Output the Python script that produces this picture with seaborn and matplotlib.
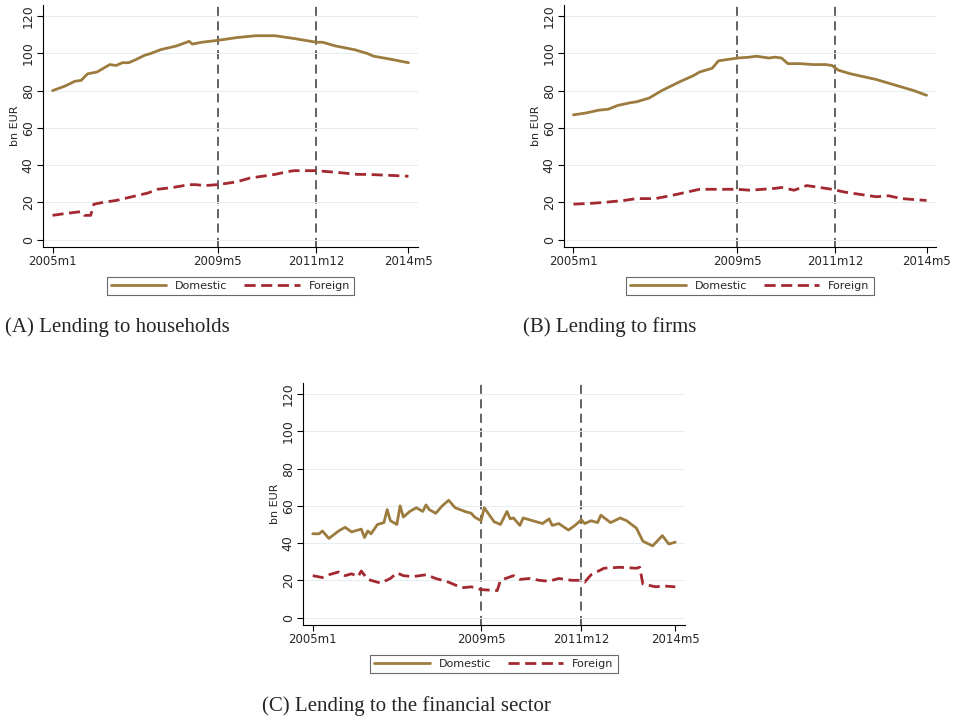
import matplotlib
matplotlib.use("Agg")
import matplotlib.pyplot as plt
import seaborn as sns
import pandas as pd

# month index: 0 = 2005m1 ... 112 = 2014m5
tick_pos = [0, 52, 83, 112]
tick_labels = ["2005m1", "2009m5", "2011m12", "2014m5"]
crisis_lines = [52, 83]

hh_dom_m = [0, 4, 7, 9, 11, 14, 18, 20, 22, 24, 26, 29, 31, 34, 39, 43, 44, 47, 52, 58, 64, 70, 76, 83, 85, 89, 95, 99, 101, 106, 112]
hh_dom_v = [80, 82.5, 85, 85.5, 89, 90, 94, 93.5, 95, 95, 96.5, 99, 100, 102, 104, 106.5, 105, 106, 107, 108.5, 109.5, 109.5, 108, 106, 106, 104, 102, 100, 98.5, 97, 95]
hh_for_m = [0, 4, 9, 10, 12, 13, 16, 20, 25, 30, 33, 38, 43, 45, 48, 52, 56, 58, 62, 66, 70, 74, 76, 83, 90, 96, 99, 106, 112]
hh_for_v = [13, 14, 15, 13, 13, 19, 20, 21, 23, 25, 27, 28, 29.5, 29.5, 29, 29.5, 30.5, 31, 33, 34, 35, 36.5, 37, 37, 36, 35, 35, 34.5, 34]

fi_dom_m = [0, 4, 8, 11, 14, 18, 20, 24, 28, 34, 38, 40, 44, 46, 48, 52, 56, 58, 62, 64, 66, 68, 72, 76, 80, 82, 84, 88, 92, 96, 100, 104, 108, 112]
fi_dom_v = [67, 68, 69.5, 70, 72, 73.5, 74, 76, 80, 85, 88, 90, 92, 96, 96.5, 97.5, 98, 98.5, 97.5, 98, 97.5, 94.5, 94.5, 94, 94, 93.5, 91, 89, 87.5, 86, 84, 82, 80, 77.5]
fi_for_m = [0, 6, 10, 16, 20, 26, 32, 36, 40, 46, 52, 56, 60, 64, 66, 70, 74, 78, 82, 86, 90, 96, 100, 104, 108, 112]
fi_for_v = [19, 19.5, 20, 21, 22, 22, 24, 25.5, 27, 27, 27, 26.5, 27, 27.5, 28, 26.5, 29, 28, 27, 25.5, 24.5, 23, 23.5, 22, 21.5, 21]

fs_dom_m = [0, 2, 3, 5, 8, 10, 12, 15, 16, 17, 18, 20, 22, 23, 24, 26, 27, 28, 30, 32, 34, 35, 36, 38, 40, 42, 44, 47, 49, 50, 52, 53, 56, 58, 60, 61, 62, 64, 65, 69, 71, 73, 74, 76, 79, 81, 83, 84, 86, 88, 89, 92, 95, 97, 100, 102, 105, 108, 110, 112]
fs_dom_v = [45, 45, 46.5, 42.5, 46.5, 48.5, 46, 47.5, 43, 46.5, 45, 50, 51, 58, 52, 50, 60, 54, 57, 59, 57, 60.5, 58, 56, 60, 63, 59, 57, 56, 54, 52, 59, 51.5, 50, 57, 53, 53.5, 49.5, 53.5, 51.5, 50.5, 53, 49.5, 50.5, 47, 49.5, 52.5, 50.5, 52, 51, 55, 51, 53.5, 52, 48, 41, 38.5, 44, 39.5, 40.5]
fs_for_m = [0, 3, 5, 8, 10, 12, 14, 15, 17, 21, 24, 26, 28, 31, 35, 38, 42, 46, 49, 52, 57, 58, 62, 64, 67, 70, 73, 76, 80, 83, 84, 86, 90, 95, 100, 101, 102, 106, 108, 112]
fs_for_v = [22.5, 21.5, 23, 24.5, 22.5, 23.5, 22, 25, 20.5, 18.5, 21, 24, 22.5, 22, 23, 21, 19, 16, 16.5, 15, 14.5, 20, 22.5, 20.5, 21, 20, 19.5, 21, 20, 20, 19, 23, 26.5, 27, 26.5, 27, 18, 16.5, 17, 16.5]

panels = [
    ("(A) Lending to households", hh_dom_m, hh_dom_v, hh_for_m, hh_for_v),
    ("(B) Lending to firms", fi_dom_m, fi_dom_v, fi_for_m, fi_for_v),
    ("(C) Lending to the financial sector", fs_dom_m, fs_dom_v, fs_for_m, fs_for_v),
]

DOM_COLOR = "#9c7b3e"
FOR_COLOR = "#a3282f"
W, H = 954, 720

# axes boxes in pixels: left, top, right, bottom
boxes = [(43, 5, 418, 247), (564, 5, 936, 247), (303, 383, 685, 625)]
caption_xy = [(5, 327), (523, 327), (262, 706)]

sns.set_style("white")
plt.rcParams["font.family"] = ["DejaVu Sans"]
fig = plt.figure(figsize=(W / 100, H / 100), dpi=100)

for (caption, dm, dv, fm, fv), (l, t, r, b), (cx, cy) in zip(panels, boxes, caption_xy):
    ax = fig.add_axes([l / W, 1 - b / H, (r - l) / W, (b - t) / H])
    dom = pd.DataFrame({"month": dm, "value": dv})
    forg = pd.DataFrame({"month": fm, "value": fv})
    sns.lineplot(data=dom, x="month", y="value", ax=ax, color=DOM_COLOR, lw=2, label="Domestic")
    sns.lineplot(data=forg, x="month", y="value", ax=ax, color=FOR_COLOR, lw=2, ls=(0, (4, 2)), label="Foreign")
    for xv in crisis_lines:
        ax.axvline(xv, color="#555555", lw=1.3, ls=(0, (5, 3)), zorder=0)
    ax.set_xlim(-3, 115)
    ax.set_ylim(-4, 126)
    ax.set_yticks(range(0, 121, 20))
    ax.set_yticklabels([str(v) for v in range(0, 121, 20)], rotation=90, va="center", fontsize=9)
    ax.set_xticks(tick_pos)
    ax.set_xticklabels(tick_labels, fontsize=8.5)
    ax.tick_params(axis="both", length=4, width=0.8, color="black", pad=2, left=True, bottom=True)
    ax.yaxis.grid(True, color="#e6eef0", lw=0.8)
    ax.set_axisbelow(True)
    for side in ("top", "right"):
        ax.spines[side].set_visible(False)
    for side in ("left", "bottom"):
        ax.spines[side].set_color("black")
        ax.spines[side].set_linewidth(0.8)
    ax.set_xlabel("")
    ax.set_ylabel("bn EUR", fontsize=8, labelpad=1)
    leg = ax.legend(loc="upper center", bbox_to_anchor=(0.5, -0.1), ncol=2, fontsize=8,
                    frameon=True, fancybox=False, edgecolor="#444444", handlelength=5,
                    borderpad=0.35, columnspacing=1.5, handletextpad=0.8)
    leg.get_frame().set_linewidth(0.8)
    fig.text(cx / W, 1 - cy / H, caption, fontsize=15, family="Liberation Serif", va="center")

fig.savefig("out.png", dpi=100)
